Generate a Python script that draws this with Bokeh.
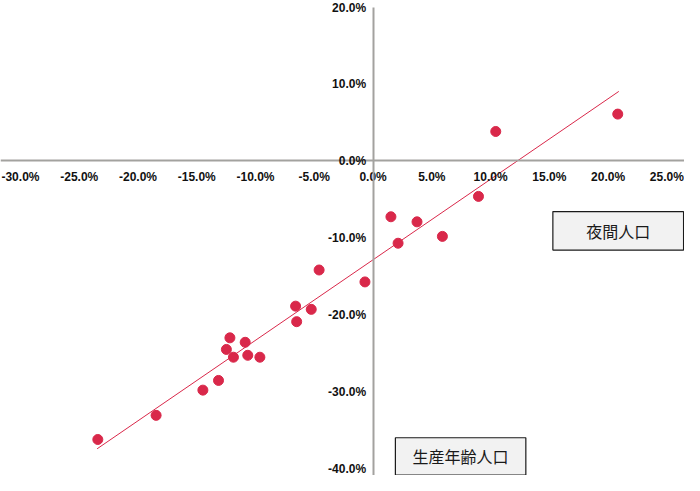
from bokeh.plotting import figure
from bokeh.models import LinearAxis, FixedTicker, BoxAnnotation, Label, Range1d
from bokeh.embed import file_html
from bokeh.resources import INLINE

# Data (percent)
x_vals = [-23.42, -18.46, -14.48, -13.15, -12.48, -12.18, -11.88, -10.88, -10.66, -9.63,
          -6.59, -6.50, -5.26, -4.59, -0.69, 1.52, 2.13, 3.74, 5.90, 8.97, 10.44, 20.82]
y_vals = [-36.23, -33.09, -29.81, -28.55, -24.52, -23.01, -25.53, -23.59, -25.28, -25.53,
          -18.89, -20.91, -19.31, -14.19, -15.74, -7.27, -10.71, -7.93, -9.82, -4.62, 3.82, 6.08]
trend_x = [-23.48, 20.91]
trend_y = [-37.44, 9.03]

x_ticks = [-30, -25, -20, -15, -10, -5, 0, 5, 10, 15, 20, 25]
x_tick_labels = ["-30.0%", "-25.0%", "-20.0%", "-15.0%", "-10.0%", "-5.0%", "0.0%",
                 "5.0%", "10.0%", "15.0%", "20.0%", "25.0%"]
y_ticks = [-40, -30, -20, -10, 0, 10, 20]
y_tick_labels = ["-40.0%", "-30.0%", "-20.0%", "-10.0%", "0.0%", "10.0%", "20.0%"]

label_x_axis = "夜間人口"
label_y_axis = "生産年齢人口"

RED = "#d9284a"
AXIS = "#a3a29f"
TICK_FONT = "Liberation Sans"
CJK_FONT = "Noto Sans CJK JP"

p = figure(width=684, height=475, output_backend="svg", toolbar_location=None,
           x_range=Range1d(-31.7, 26.5), y_range=Range1d(-40.91, 20.85),
           x_axis_location=None, y_axis_location=None, min_border=0)
p.outline_line_color = None
p.xgrid.visible = False
p.ygrid.visible = False
p.background_fill_color = "white"
p.border_fill_color = "white"

xaxis = LinearAxis(fixed_location=0, ticker=FixedTicker(ticks=x_ticks),
                   major_label_overrides={t: l for t, l in zip(x_ticks, x_tick_labels)})
yaxis = LinearAxis(fixed_location=0, ticker=FixedTicker(ticks=y_ticks),
                   major_label_overrides={t: l for t, l in zip(y_ticks, y_tick_labels)},
                   bounds=(-45, 20))
for ax in (xaxis, yaxis):
    ax.axis_line_color = AXIS
    ax.axis_line_width = 2
    ax.major_tick_in = 0
    ax.major_tick_out = 0
    ax.minor_tick_in = 0
    ax.minor_tick_out = 0
    ax.major_label_text_font = TICK_FONT
    ax.major_label_text_font_style = "bold"
    ax.major_label_text_font_size = "12px"
    ax.major_label_text_color = "#111111"
xaxis.major_label_standoff = 9
yaxis.major_label_standoff = 7
p.add_layout(xaxis, "below")
p.add_layout(yaxis, "left")

p.line(trend_x, trend_y, line_color=RED, line_width=1)
p.scatter(x_vals, y_vals, size=10, fill_color=RED, line_color=RED)

b1 = dict(left=15.3, right=26.42, top=-6.6, bottom=-11.6)
b2 = dict(left=1.9, right=13.0, top=-36.0, bottom=-40.86)
box_style = dict(fill_color="#f2f2f2", fill_alpha=1, line_color="#1a1a1a",
                 line_alpha=1, line_width=1.2)
box1 = BoxAnnotation(**b1, **box_style)
box2 = BoxAnnotation(**b2, **box_style)
p.add_layout(box1)
p.add_layout(box2)
lab1 = Label(x=(b1["left"] + b1["right"]) / 2, y=(b1["top"] + b1["bottom"]) / 2, text=label_x_axis,
             text_align="center", text_baseline="middle", text_font=CJK_FONT,
             text_font_size="16px", text_color="#1a1a1a")
lab2 = Label(x=(b2["left"] + b2["right"]) / 2, y=(b2["top"] + b2["bottom"]) / 2, text=label_y_axis,
             text_align="center", text_baseline="middle", text_font=CJK_FONT,
             text_font_size="16px", text_color="#1a1a1a")
p.add_layout(lab1)
p.add_layout(lab2)

open("out.html", "w").write(file_html(p, INLINE))
